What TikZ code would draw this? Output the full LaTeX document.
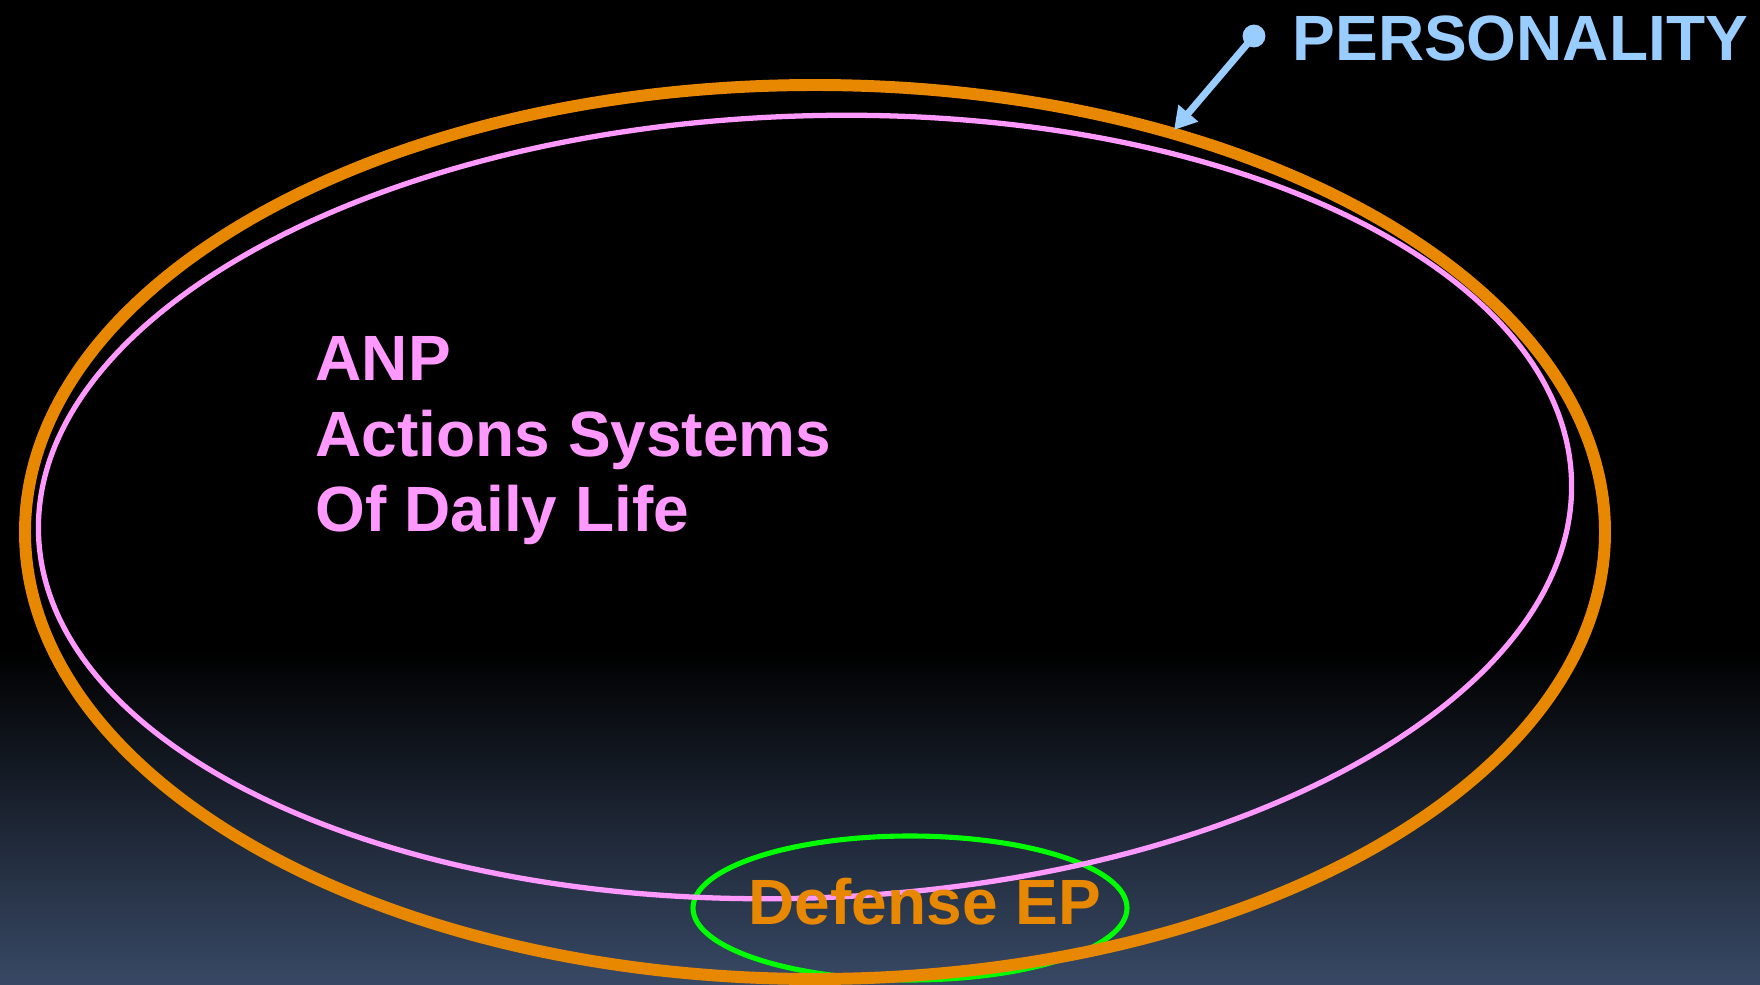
\documentclass[tikz,border=0pt]{standalone}
\usepackage{fontspec}
\setmainfont{Liberation Sans}
\usetikzlibrary{arrows.meta}
\definecolor{cOrange}{RGB}{232,136,0}
\definecolor{cPink}{RGB}{255,153,255}
\definecolor{cGreen}{RGB}{0,255,0}
\definecolor{cBlue}{RGB}{153,204,255}
\definecolor{cBottom}{RGB}{56,73,101}
\tikzset{
  bigtext/.style={inner sep=0pt, anchor=base west, font=\fontsize{18.2}{21.3}\selectfont\bfseries},
}
\begin{document}
\begin{tikzpicture}[x=0.01cm,y=0.01cm]
\useasboundingbox (0,0) rectangle (1760,-985);
% background
\fill[black] (0,0) rectangle (1760,-985);
\shade[top color=black,bottom color=cBottom] (0,-650) rectangle (1760,-985);
% ellipses
\draw[cGreen,line width=1.45pt] (910,-908) ellipse [x radius=217, y radius=72];
\draw[cPink,line width=1.5pt,rotate around={2.1:(805,-507)}] (805,-507) ellipse [x radius=767, y radius=391];
\draw[cOrange,line width=3.4pt] (815,-532) ellipse [x radius=790, y radius=447];
% texts
\node[bigtext,text=cPink] (anp) at (315,-380) {ANP};
\node[bigtext,text=cPink] (act) at (315,-456) {Actions Systems};
\node[bigtext,text=cPink] (odl) at (315,-531) {Of Daily Life};
\node[bigtext,text=cOrange] (def) at (748,-924) {Defense EP};
\node[bigtext,text=cBlue] (pers) at (1292,-61) {PERSONALITY};
% arrow
\node[circle,fill=cBlue,inner sep=0pt,minimum size=6.5pt] (dot) at (1254,-36) {};
\coordinate (tip) at (1174,-130);
\draw[cBlue,line width=2pt,-{Triangle[length=6.3pt,width=7pt]}] (dot.center) -- (tip);
\end{tikzpicture}
\end{document}
